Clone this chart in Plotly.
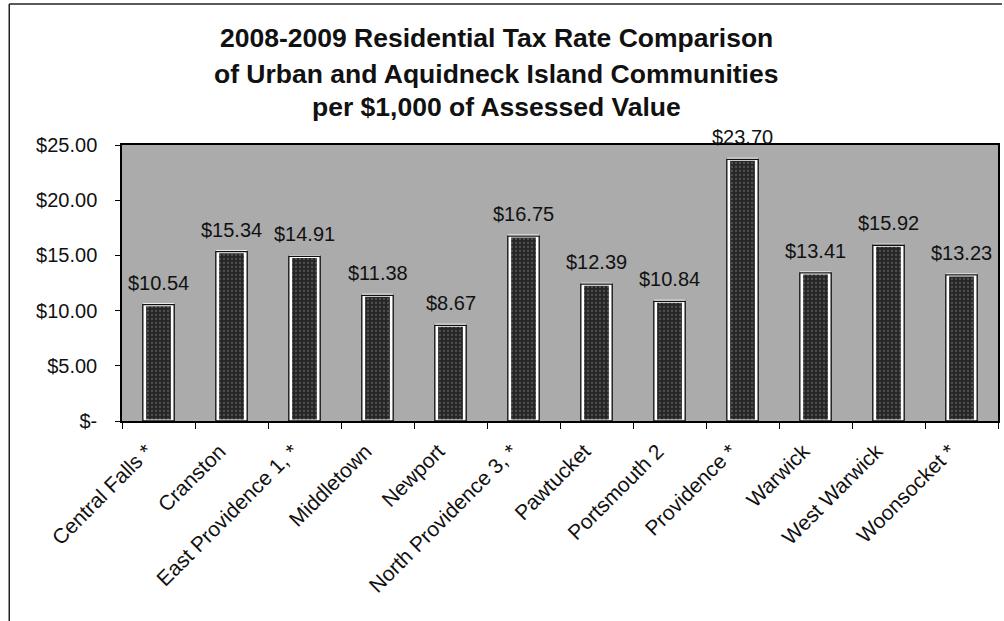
import plotly.graph_objects as go

categories = ["Central Falls *", "Cranston", "East Providence 1, *", "Middletown", "Newport",
              "North Providence 3, *", "Pawtucket", "Portsmouth 2", "Providence *", "Warwick",
              "West Warwick", "Woonsocket *"]
values = [10.54, 15.34, 14.91, 11.38, 8.67, 16.75, 12.39, 10.84, 23.70, 13.41, 15.92, 13.23]
y_tickvals = [0, 5, 10, 15, 20, 25]
y_ticktext = ["$-", "$5.00", "$10.00", "$15.00", "$20.00", "$25.00"]
title_lines = ["2008-2009 Residential Tax Rate Comparison",
               "of Urban and Aquidneck Island Communities",
               "per $1,000 of Assessed Value"]

FONT = "Liberation Sans, Arial, sans-serif"
LEFT, RIGHT = 122, 1000
TOP, BOTTOM = 145, 421          # plot area pixel rows
PLOT_H = BOTTOM - TOP
PLOT_W = RIGHT - LEFT

fig = go.Figure()
# dark bar with white inner border
fig.add_trace(go.Bar(
    x=categories, y=values, width=0.38,
    marker=dict(color="#2e2e2e", line=dict(color="white", width=3),
                pattern=dict(shape=".", fgcolor="#7a7a7a", bgcolor="#262626", size=4, solidity=0.25)),
    hoverinfo="skip",
))
# thin black outer outline
fig.add_trace(go.Bar(
    x=categories, y=values, width=0.43,
    marker=dict(color="rgba(0,0,0,0)", line=dict(color="#111111", width=1.3)),
))

annotations = []
for c, v in zip(categories, values):
    annotations.append(dict(x=c, y=v, xref="x", yref="y", text=f"${v:.2f}", showarrow=False,
                            yanchor="middle", yshift=22,
                            font=dict(family=FONT, size=20, color="#111111")))

title_centers_px = [38, 74, 107]
for line, cy in zip(title_lines, title_centers_px):
    annotations.append(dict(x=(497 - LEFT) / PLOT_W, xref="paper", y=(BOTTOM - cy) / PLOT_H, yref="paper",
                            text=f"<b>{line}</b>", showarrow=False, xanchor="center", yanchor="middle",
                            font=dict(family=FONT, size=26.5, color="#111111")))

fig.update_layout(
    width=1004, height=621,
    margin=dict(l=LEFT, r=1004 - RIGHT, t=TOP, b=621 - BOTTOM),
    paper_bgcolor="white",
    plot_bgcolor="#ababab",
    showlegend=False,
    barmode="overlay",
    xaxis=dict(type="category", tickangle=-45, tickson="boundaries", ticks="outside", ticklen=6,
               tickcolor="black", showline=True, linecolor="black", linewidth=1.5, mirror=True,
               ticklabelshift=-12, ticklabelstandoff=8,
               tickfont=dict(family=FONT, size=21, color="#111111"), showgrid=False),
    yaxis=dict(range=[0, 25], tickvals=y_tickvals, ticktext=y_ticktext, ticks="outside", ticklen=5,
               tickcolor="black", showline=True, linecolor="black", linewidth=1.5, mirror=True,
               showgrid=False, zeroline=False, ticklabelstandoff=14,
               tickfont=dict(family=FONT, size=20, color="#111111")),
    annotations=annotations,
    shapes=[
        dict(type="line", xref="paper", yref="paper", x0=(9 - LEFT) / PLOT_W, x1=(1004 - LEFT) / PLOT_W,
             y0=(BOTTOM - 4) / PLOT_H, y1=(BOTTOM - 4) / PLOT_H, line=dict(color="#222222", width=1.5)),
        dict(type="line", xref="paper", yref="paper", x0=(9 - LEFT) / PLOT_W, x1=(9 - LEFT) / PLOT_W,
             y0=(BOTTOM - 4) / PLOT_H, y1=(BOTTOM - 621) / PLOT_H, line=dict(color="#222222", width=1.5)),
    ],
)

fig.write_html("out.html")
